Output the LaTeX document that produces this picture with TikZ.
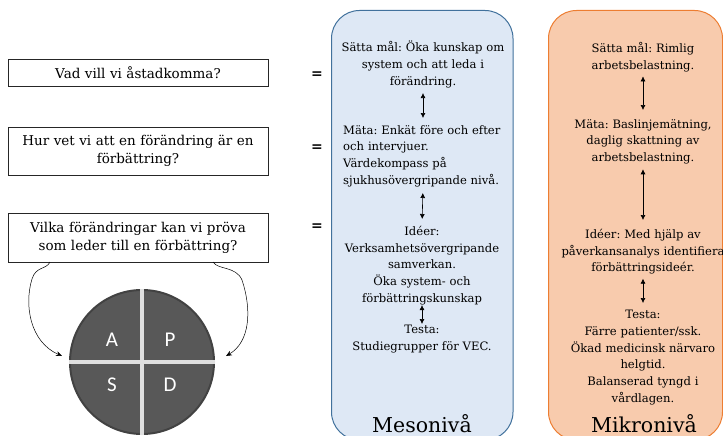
\documentclass[tikz,border=0pt]{standalone}
\usepackage{fontspec}
\setmainfont{DejaVu Serif}
\newfontfamily\pdsafont{Carlito}
\usetikzlibrary{arrows.meta,positioning}

\definecolor{mesofill}{RGB}{222,232,245}
\definecolor{mesoline}{RGB}{65,113,156}
\definecolor{mikrofill}{RGB}{248,203,173}
\definecolor{mikroline}{RGB}{237,125,49}
\definecolor{pdsagray}{RGB}{88,88,88}

\newcommand\lvlfont{\fontsize{11.6}{16.7}\selectfont}
\newcommand\askfont{\fontsize{13.5}{18}\selectfont}
\frenchspacing

\begin{document}
\begin{tikzpicture}[x=1pt,y=-1pt,
  question/.style={draw=black!85, line width=0.7pt, minimum width=260pt,
    text width=250pt, align=center, font=\askfont, inner sep=0pt},
  equals/.style={font=\bfseries\fontsize{14}{14}\selectfont},
  lvltext/.style={text width=185pt, align=center, font=\lvlfont,
    inner sep=0pt, anchor=north},
  lvlname/.style={font=\fontsize{20.5}{24}\selectfont, inner sep=0pt, anchor=base},
  dblarrow/.style={<->, >={Latex[length=5pt,width=5pt]}, line width=0.6pt},
  curvearrow/.style={->, >={Stealth[length=6pt,width=5pt]}, line width=0.5pt},
  letter/.style={text=white, font=\pdsafont\fontsize{21}{21}\selectfont}]

\useasboundingbox (0,0) rectangle (723,436);
\clip (0,0) rectangle (723,436);

% the two levels
\draw[fill=mesofill, draw=mesoline, line width=1pt, rounded corners=28pt]
  (331.5,10.5) rectangle (513,440);
\draw[fill=mikrofill, draw=mikroline, line width=1pt, rounded corners=28pt]
  (548.5,10.5) rectangle (722.5,440);

% questions
\node[question, minimum height=27pt] (q1) at (138,72.5) {Vad vill vi åstadkomma?};
\node[question, minimum height=48pt] (q2) at (138,151) {Hur vet vi att en förändring är en\\ förbättring?};
\node[question, minimum height=49pt] (q3) at (138,237.5) {Vilka förändringar kan vi pröva\\ som leder till en förbättring?};

\node[equals] (e1) at (317,75) {=};
\node[equals] (e2) at (317,148) {=};
\node[equals] (e3) at (317,227) {=};

% PDSA
\node[circle, fill=pdsagray, draw=pdsagray!75!black, line width=2pt,
  minimum size=144pt, inner sep=0pt] (pdsa) at (142,362) {};
\draw[white!75!gray, line width=3.5pt] (pdsa.north) -- (pdsa.south);
\draw[white!75!gray, line width=3.5pt] (pdsa.west) -- (pdsa.east);
\node[letter] (la) at (112,340) {A};
\node[letter] (lp) at (170,340) {P};
\node[letter] (ls) at (112,385) {S};
\node[letter] (ld) at (170,385) {D};

\coordinate (lstart) at (50,262);
\coordinate (ltip) at (62,356);
\coordinate (rstart) at (213,262);
\coordinate (rtip) at (226,356);
\draw[curvearrow] (lstart) .. controls (46,270) and (36,266) .. (32,279)
  .. controls (24,305) and (30,342) .. (ltip);
\draw[curvearrow] (rstart) .. controls (218,270) and (236,266) .. (242,280)
  .. controls (252,310) and (250,342) .. (rtip);

% Mesoniva
\node[lvltext] (mgoal) at (423,41) {Sätta mål: Öka kunskap om\\ system och att leda i\\ förändring.};
\node[lvltext, text width=168pt, align=left, anchor=north west] (mmeas) at (343,125)
  {Mäta: Enkät före och efter\\ och intervjuer.\\ Värdekompass på\\ sjukhusövergripande nivå.};
\node[lvltext] (midea) at (422,226) {Idéer:\\ Verksamhetsövergripande\\ samverkan.\\ Öka system- och\\ förbättringskunskap};
\node[lvltext] (mtest) at (422,325) {Testa:\\ Studiegrupper för VEC.};
\node[lvlname] (mesolbl) at (422,432) {Mesonivå};

\draw[dblarrow, shorten <=5pt, shorten >=7pt] (mgoal.south) -- (mgoal.south |- mmeas.north);
\draw[dblarrow, shorten <=6pt, shorten >=7pt] (mgoal.south |- mmeas.south) -- (midea.north);
\draw[dblarrow, shorten <=0pt, shorten >=1pt] (midea.south) -- (mtest.north);

% Mikroniva
\node[lvltext] (kgoal) at (643,42) {Sätta mål: Rimlig\\ arbetsbelastning.};
\node[lvltext] (kmeas) at (643,119) {Mäta: Baslinjemätning,\\ daglig skattning av\\ arbetsbelastning.};
\node[lvltext] (kidea) at (643,229) {Idéer: Med hjälp av\\ påverkansanalys identifiera\\ förbättringsideér.};
\node[lvltext] (ktest) at (643,310) {Testa:\\ Färre patienter/ssk.\\ Ökad medicinsk närvaro\\ helgtid.\\ Balanserad tyngd i\\ vårdlagen.};
\node[lvlname] (mikrolbl) at (644,432) {Mikronivå};

\draw[dblarrow, shorten <=4.5pt, shorten >=9pt] (kgoal.south) -- (kmeas.north);
\draw[dblarrow, shorten <=5pt, shorten >=9pt] (kmeas.south) -- (kidea.north);
\draw[dblarrow, shorten <=4pt, shorten >=7pt] (kidea.south) -- (ktest.north);

\end{tikzpicture}
\end{document}
